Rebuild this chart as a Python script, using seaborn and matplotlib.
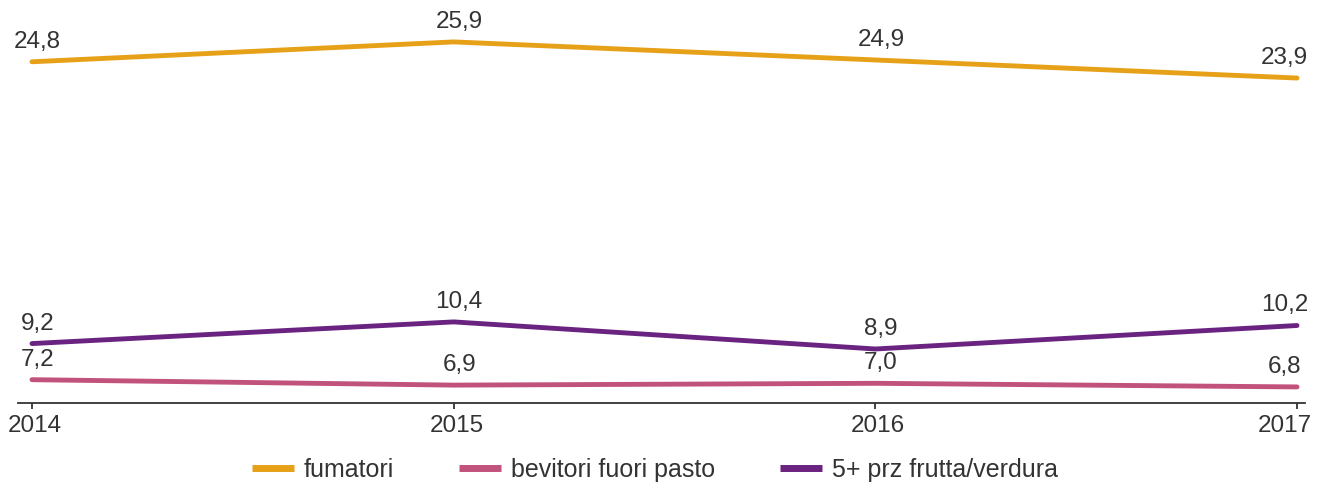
import matplotlib
matplotlib.use('Agg')
import matplotlib.pyplot as plt
import matplotlib.transforms as mtransforms
import numpy as np
import pandas as pd
import seaborn as sns

# dati
anni = [2014, 2015, 2016, 2017]
fumatori = [24.8, 25.9, 24.9, 23.9]
bevitori = [7.2, 6.9, 7.0, 6.8]
frutta_verdura = [9.2, 10.4, 8.9, 10.2]
serie = ['fumatori', 'bevitori fuori pasto', '5+ prz frutta/verdura']
colori = ['#E6A118', '#C1527B', '#6A2381']

df = pd.DataFrame({
    'anno': anni * 3,
    'valore': fumatori + bevitori + frutta_verdura,
    'serie': [serie[0]] * 4 + [serie[1]] * 4 + [serie[2]] * 4,
})

sns.set_style('white')
plt.rcParams['font.family'] = ['Liberation Sans', 'DejaVu Sans']

fig = plt.figure(figsize=(13.18, 4.86), dpi=100)
ax = fig.add_axes([18 / 1318, 1 - 403 / 486, (1305 - 18) / 1318, 403 / 486])

sns.lineplot(data=df, x='anno', y='valore', hue='serie', hue_order=serie,
             palette=colori, linewidth=3.5, ax=ax, clip_on=False)

ax.set_xlim(2014 - 14 / 421.67, 2017 + 8 / 421.67)
ax.set_ylim(5.91, 28.22)

# etichette dei valori
for vals in [fumatori, bevitori, frutta_verdura]:
    for i, (a, v) in enumerate(zip(anni, vals)):
        dx = 4 if i < 3 else -9
        ax.annotate(('%.1f' % v).replace('.', ','), (a, v), xytext=(dx, 6.5),
                    textcoords='offset points', ha='center', va='bottom',
                    fontsize=17.5, color='#333333', annotation_clip=False)

for s in ['top', 'right', 'left']:
    ax.spines[s].set_visible(False)
ax.spines['bottom'].set_color('#333333')
ax.spines['bottom'].set_linewidth(1.3)
ax.set_yticks([])
ax.set_xticks(anni)
ax.set_xticklabels([str(a) for a in anni])
ax.tick_params(axis='x', bottom=True, length=4.5, width=1.3, color='#333333',
               labelsize=17.5, labelcolor='#333333', pad=4)
ax.set_xlabel('')
ax.set_ylabel('')

# piccoli spostamenti delle etichette dell'asse come nell'originale
spost = [3, 3, 2, -12]
for lab, d in zip(ax.get_xticklabels(), spost):
    lab.set_transform(lab.get_transform() +
                      mtransforms.ScaledTranslation(d / 100, 0, fig.dpi_scale_trans))

handles, labels = ax.get_legend_handles_labels()
leg = ax.legend(handles, labels, loc='center left',
                bbox_to_anchor=(252 / 1318, 1 - 470 / 486), bbox_transform=fig.transFigure,
                ncol=3, frameon=False, fontsize=18, handlelength=1.68,
                handletextpad=0.4, columnspacing=2.6, labelcolor='#333333',
                borderpad=0, borderaxespad=0)
for h in leg.legend_handles:
    h.set_linewidth(5)
    h.set_solid_capstyle('butt')

fig.savefig('out.png', dpi=100)
